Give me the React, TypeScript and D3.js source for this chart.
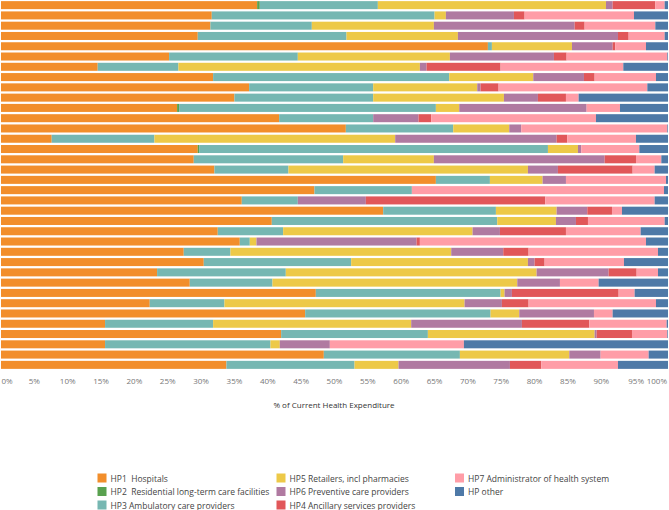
import React from 'react';
import * as d3 from 'd3';

// one entry per bar, top to bottom (no labels shown in the chart)
const rows = d3.range(1, 37).map(i => `Row ${i}`);

// shares of current health expenditure, % — stack order left to right
const hp1 = [38.4, 31.6, 31.4, 29.5, 73.0, 25.2, 14.5, 31.8, 37.2, 35.0, 26.4, 41.7, 51.7, 7.6, 29.5, 28.9, 32.0, 65.2, 47.0, 36.1, 57.3, 40.6, 32.5, 35.8, 27.4, 30.4, 23.4, 28.3, 47.2, 22.3, 45.6, 15.6, 42.0, 15.6, 48.4, 33.8];
const hp2 = [0.4, 0, 0, 0, 0, 0, 0, 0, 0, 0, 0.3, 0, 0, 0, 0.2, 0, 0, 0, 0, 0, 0, 0, 0, 0, 0, 0, 0, 0, 0, 0, 0, 0, 0, 0, 0, 0];
const hp3 = [17.7, 33.4, 15.2, 22.3, 0.6, 19.3, 12.1, 35.4, 18.6, 20.8, 38.5, 14.1, 16.1, 15.4, 52.3, 22.4, 11.1, 8.1, 14.6, 8.4, 16.9, 33.8, 9.8, 1.5, 7.0, 22.1, 19.3, 12.4, 27.7, 11.2, 27.8, 16.2, 22.0, 24.8, 20.4, 19.2];
const hp5 = [34.2, 1.7, 18.3, 16.7, 12.0, 22.8, 36.2, 12.6, 15.6, 19.6, 3.5, 0, 8.4, 36.1, 4.5, 13.6, 35.9, 7.9, 0, 0, 9.1, 8.8, 28.4, 1.0, 33.1, 26.5, 37.6, 36.7, 0.6, 36.0, 4.3, 29.7, 25.0, 1.4, 16.4, 6.6];
const hp6 = [1.0, 10.2, 21.1, 24.0, 6.1, 15.6, 1.0, 7.6, 0.5, 5.1, 19.1, 6.8, 1.8, 24.2, 0.5, 25.6, 4.5, 3.5, 0, 10.2, 4.6, 3.0, 4.1, 24.0, 7.8, 1.0, 10.8, 6.4, 1.1, 5.6, 11.2, 16.6, 0.3, 7.5, 4.7, 16.7];
const hp4 = [6.4, 1.6, 1.5, 1.6, 0.4, 1.9, 11.1, 1.6, 2.7, 4.2, 0, 1.9, 0, 1.6, 0, 4.7, 11.2, 0, 0, 26.9, 3.7, 1.8, 9.9, 0.5, 3.8, 1.5, 4.2, 0, 16.0, 4.0, 0, 10.1, 5.3, 0, 0, 4.7];
const hp7 = [1.4, 16.4, 10.6, 5.4, 4.6, 15.1, 18.4, 9.2, 22.3, 1.9, 5.0, 24.7, 21.9, 10.3, 8.7, 3.8, 3.3, 15.0, 37.8, 16.4, 1.5, 11.5, 11.2, 33.9, 19.4, 11.9, 3.2, 5.8, 2.4, 19.1, 2.8, 11.6, 5.3, 20.1, 7.2, 11.5];
const hpOther = [0.5, 5.1, 1.9, 0.5, 3.3, 0.1, 6.7, 1.8, 3.1, 13.4, 7.2, 10.8, 0.1, 4.8, 4.3, 1.0, 2.0, 0.3, 0.6, 2.0, 6.9, 0.5, 4.1, 3.3, 1.5, 6.6, 1.5, 10.4, 5.0, 1.8, 8.3, 0.2, 0.1, 30.6, 2.9, 7.5];

const ticks = d3.range(0, 101, 5);

const series = [
  { key: 'hp1', label: 'HP1  Hospitals', color: '#F28E2B', values: hp1 },
  { key: 'hp2', label: 'HP2  Residential long-term care facilities', color: '#59A14F', values: hp2 },
  { key: 'hp3', label: 'HP3 Ambulatory care providers', color: '#76B7B2', values: hp3 },
  { key: 'hp5', label: 'HP5 Retailers, incl pharmacies', color: '#EDC948', values: hp5 },
  { key: 'hp6', label: 'HP6 Preventive care providers', color: '#B07AA1', values: hp6 },
  { key: 'hp4', label: 'HP4 Ancillary services providers', color: '#E15759', values: hp4 },
  { key: 'hp7', label: 'HP7 Administrator of health system', color: '#FF9DA7', values: hp7 },
  { key: 'hpOther', label: 'HP other', color: '#4E79A7', values: hpOther },
];

const W = 669;
const H = 510;
const font = '"Open Sans", sans-serif';

export default function App() {
  const table = rows.map((r, i) => {
    const o: any = { row: r };
    series.forEach(s => { o[s.key] = s.values[i]; });
    return o;
  });
  const stacked = d3.stack().keys(series.map(s => s.key))(table);

  const x = d3.scaleLinear().domain([0, 100]).range([1, 668]);
  const y = d3.scaleBand().domain(rows).range([0, 370]).paddingInner(0.22).paddingOuter(0.11);

  // legend is laid out column by column, three rows each
  const legendCols = [97.5, 276.5, 455];
  const legendRows = [478, 491.5, 505];

  return (
    <svg width={W} height={H} style={{ position: 'absolute', left: 0, top: 0, background: '#fff' }}>
      {stacked.map((layer, li) => (
        <g key={layer.key} fill={series[li].color}>
          {layer.map((d, i) => {
            const w = x(d[1]) - x(d[0]);
            if (w <= 0) return null;
            return <rect key={i} x={x(d[0])} y={y(rows[i])} width={w} height={y.bandwidth()} />;
          })}
        </g>
      ))}

      <g fontFamily={font} fontSize={8} fill="#777">
        {ticks.map(t => {
          const label = `${t}%`;
          let tx = x(t);
          let anchor: any = 'middle';
          // edge labels are pulled inside the plot, as Tableau does
          if (t === 0) { tx = 1.5; anchor = 'start'; }
          if (t === 100) { tx = 667; anchor = 'end'; }
          if (t === 95) tx = x(t) + 1.5;
          return <text key={t} x={tx} y={384} textAnchor={anchor}>{label}</text>;
        })}
      </g>
      <text x={334} y={408} textAnchor="middle" fontFamily={font} fontSize={8} fontWeight={500} fill="#333">
        % of Current Health Expenditure
      </text>

      <g fontFamily={font} fontSize={8.5} fill="#444">
        {series.map((s, i) => {
          const cx = legendCols[Math.floor(i / 3)];
          const cy = legendRows[i % 3];
          return (
            <g key={s.key}>
              <rect x={cx} y={cy - 4.5} width={9} height={9} fill={s.color} />
              <text x={cx + 13} y={cy} dominantBaseline="central" style={{ whiteSpace: 'pre' }}>{s.label}</text>
            </g>
          );
        })}
      </g>
    </svg>
  );
}
